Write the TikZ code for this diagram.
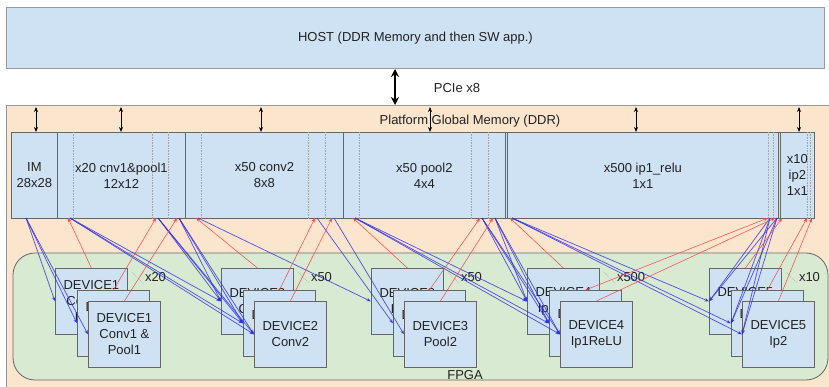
\documentclass[tikz,border=0pt]{standalone}
\usepackage{fontspec}
\setmainfont{Liberation Sans}
\usetikzlibrary{arrows.meta}

\definecolor{cellblue}{HTML}{CFE2F3}
\definecolor{ddrorange}{HTML}{FCE5CD}
\definecolor{fpgagreen}{HTML}{D9EAD3}
\definecolor{edgegray}{HTML}{666666}
\definecolor{framegray}{HTML}{999999}
\definecolor{inkgray}{HTML}{222222}
\definecolor{wireblue}{RGB}{45,45,235}
\definecolor{wirered}{RGB}{255,70,70}

\tikzset{
  txt/.style={font=\fontsize{13}{16}\selectfont, text=inkgray},
  memcell/.style={txt, draw=edgegray, fill=cellblue, line width=0.8pt,
    anchor=north west, inner sep=0pt, minimum height=86pt, align=center},
  sepline/.style={draw=gray!70, densely dotted, line width=0.6pt},
  innerwall/.style={draw=edgegray, line width=0.8pt},
  devbox/.style={txt, draw=edgegray, fill=cellblue, line width=0.8pt,
    anchor=north west, inner sep=0pt, minimum width=72pt, minimum height=66pt,
    align=center},
  stackdots/.style={draw=gray!60, densely dotted, line width=0.7pt},
  bus/.style={draw=black, line width=0.9pt, {Stealth[length=5pt,width=4pt]}-{Stealth[length=5pt,width=4pt]}},
  pcie/.style={draw=black, line width=2pt, {Stealth[length=8pt,width=8pt]}-{Stealth[length=8pt,width=8pt]}},
  bluewire/.style={draw=wireblue, draw opacity=0.78, line width=0.75pt,
    -{Stealth[length=4.5pt,width=3.5pt]}},
  redwire/.style={draw=wirered, draw opacity=0.9, line width=0.6pt,
    -{Stealth[length=4.5pt,width=3.5pt]}},
}

\begin{document}
\begin{tikzpicture}[x=1pt,y=-1pt]
\useasboundingbox (0,0) rectangle (829,387);
\clip (0,0) rectangle (829,387);
\fill[white] (0,0) rectangle (829,387);

% host and PCIe link
\node[txt, draw=framegray, fill=cellblue, line width=0.8pt, anchor=north west,
  minimum width=818pt, minimum height=61pt, inner sep=0pt] (host) at (6,7)
  {HOST (DDR Memory and then SW app.)};

% platform DDR region
\node[draw=framegray, fill=ddrorange, line width=0.8pt, anchor=north west,
  minimum width=840pt, minimum height=300pt, inner sep=0pt] (ddr) at (6,105) {};
\node[txt] (ddrlabel) at (470,121) {Platform Global Memory (DDR)};

\coordinate (pcietop) at (395,69);
\draw[pcie] (pcietop) -- (pcietop |- ddr.north);
\node[txt] (pcielabel) at (457,88) {PCIe x8};

% FPGA region
\draw[draw=gray!80!black, fill=fpgagreen, line width=0.8pt, rounded corners=22pt]
  (13,253) rectangle (828,380);
\node[txt] (fpga) at (465,375) {FPGA};

% memory buffers
\node[memcell, minimum width=46pt]  (im) at (11,132)  {IM\\28x28};
\node[memcell, minimum width=128pt] (c1) at (57,132)  {x20 cnv1\&pool1\\12x12};
\node[memcell, minimum width=158pt] (c2) at (185,132) {x50 conv2\\8x8};
\node[memcell, minimum width=162pt] (p2) at (343,132) {x50 pool2\\4x4};
\node[memcell, minimum width=275pt] (f1) at (505,132) {x500 ip1\_relu\\1x1};
\node[memcell, minimum width=34pt]  (f2) at (780,132) {x10\\ip2\\1x1};

% feature-map separators inside each buffer
\foreach \cell/\offs in {c1/16, c1/95, c1/111, c2/16, c2/123, c2/140,
                         p2/16, p2/128, p2/145, f1/263, f1/268, f2/27, f2/30}
  \draw[sepline] ([xshift=\offs pt]\cell.north west) -- ([xshift=\offs pt]\cell.south west);
\foreach \offs in {2, 273}
  \draw[innerwall] ([xshift=\offs pt]f1.north west) -- ([xshift=\offs pt]f1.south west);

% DDR bus arrows
\foreach \xx/\nm in {36/ba, 121/bb, 261/bc, 430/bd, 636/be, 799/bf} {
  \coordinate (\nm) at (\xx,107);
  \draw[bus] (\nm) -- (\nm |- im.north);
}

% device stacks: back, middle, front copies
\foreach \k/\bx/\body/\mult in {
    1/55/{DEVICE1\\Conv1 \&\\Pool1}/x20,
    2/221/{DEVICE2\\Conv2}/x50,
    3/371/{DEVICE3\\Pool2}/x50,
    4/527/{DEVICE4\\Ip1ReLU}/x500,
    5/709/{DEVICE5\\Ip2}/x10} {
  \node[devbox] (d\k a) at (\bx,268) {\body};
  \node[devbox] (d\k b) at (\bx+22,290) {\body};
  \node[devbox] (d\k c) at (\bx+33,301) {\body};
  \draw[stackdots] ([shift={(4,4)}]d\k a.north east) -- ([shift={(-6,-6)}]d\k b.north east);
  \node[txt, anchor=west, inner sep=0pt] (m\k) at ([shift={(17,9)}]d\k a.north east) {\mult};
}

% buffer ports on the lower edge of the memory row
\coordinate (imo) at (26,218);
\foreach \nm/\xx in {c1a/68, c1b/156, c1c/177,
                     c2a/196, c2b/315, c2c/332,
                     p2a/353, p2b/480, p2c/493,
                     f1a/510, f1b/768, f1c/775,
                     f2a/782, f2b/807, f2c/812}
  \coordinate (\nm) at (\xx,218);

% reads: buffers to devices
\foreach \s in {a,b,c}
  \draw[bluewire] (imo) -- (d1\s.west);
\foreach \p in {a,b,c}
  \foreach \s in {a,b,c} {
    \draw[bluewire] ([xshift=2pt]c1\p) -- (d2\s.west);
    \draw[bluewire] ([xshift=2pt]p2\p) -- (d4\s.west);
    \draw[bluewire] ([xshift=2pt]f1\p) -- (d5\s.west);
  }
\foreach \p in {a,b,c}
  \draw[bluewire] ([xshift=2pt]c2\p) -- (d3\p.west);

% writes: devices back to buffers
\foreach \d/\m in {d1/c1, d2/c2, d3/p2, d4/f1, d5/f2}
  \foreach \p in {a,b,c}
    \draw[redwire] (\d\p.north) -- (\m\p);
\end{tikzpicture}
\end{document}
